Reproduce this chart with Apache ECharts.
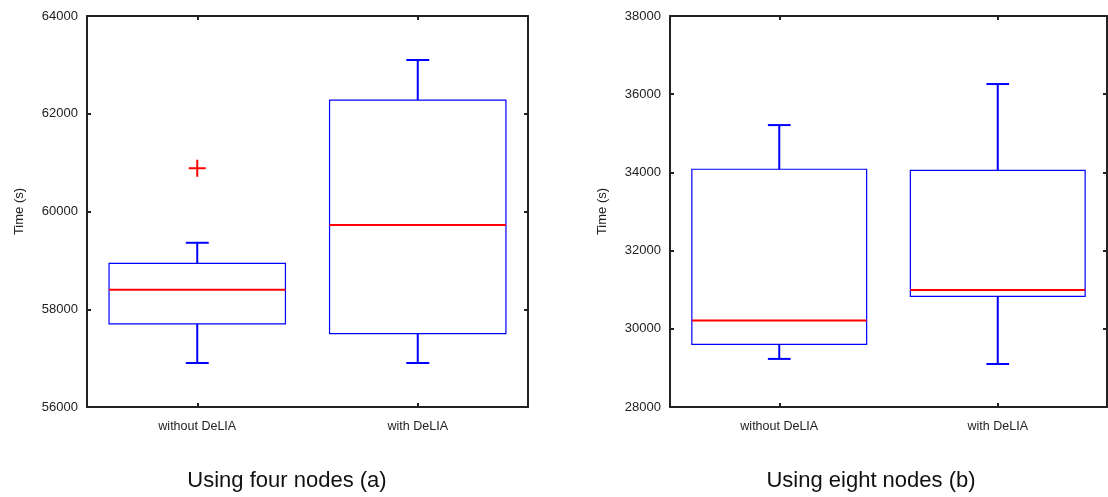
<!DOCTYPE html>
<html>
<head>
<meta charset="utf-8">
<script src="https://cdn.jsdelivr.net/npm/echarts@6/dist/echarts.min.js"></script>
<style>html,body{margin:0;padding:0;background:#fff}#c{width:1108px;height:497px}</style>
</head>
<body>
<div id="c"></div>
<script>
const categories = ['without DeLIA', 'with DeLIA'];

// Using four nodes (a)
const fourMin    = [56900, 56900];
const fourQ1     = [57700, 57500];
const fourMedian = [58400, 59725];
const fourQ3     = [58940, 62280];
const fourMax    = [59360, 63100];
const fourOutliers = [[0, 60885]];
const fourTicks = {min: 56000, max: 64000, interval: 2000};

// Using eight nodes (b)
const eightMin    = [29230, 29100];
const eightQ1     = [29600, 30830];
const eightMedian = [30210, 30990];
const eightQ3     = [34080, 34050];
const eightMax    = [35210, 36260];
const eightOutliers = [];
const eightTicks = {min: 28000, max: 38000, interval: 2000};

const titles = ['Using four nodes (a)', 'Using eight nodes (b)'];
const yName = 'Time (s)';

function stats(mn, q1, md, q3, mx) {
  return categories.map((c, i) => [i, mn[i], q1[i], md[i], q3[i], mx[i]]);
}

const BLUE = '#0000ff', RED = '#ff0000', INK = '#222';

function boxRender(params, api) {
  const i = api.value(0);
  const pMin = api.coord([i, api.value(1)]);
  const pQ1 = api.coord([i, api.value(2)]);
  const pMd = api.coord([i, api.value(3)]);
  const pQ3 = api.coord([i, api.value(4)]);
  const pMax = api.coord([i, api.value(5)]);
  const band = api.size([1, 0])[0];
  const half = band * 0.4;
  const cap = band * 0.052;
  const x = pMd[0];
  const wStyle = {stroke: BLUE, lineWidth: 2, fill: null};
  return {
    type: 'group',
    children: [
      {type: 'line', shape: {x1: x, y1: pQ3[1], x2: x, y2: pMax[1]}, style: wStyle},
      {type: 'line', shape: {x1: x - cap, y1: pMax[1], x2: x + cap, y2: pMax[1]}, style: wStyle},
      {type: 'line', shape: {x1: x, y1: pQ1[1], x2: x, y2: pMin[1]}, style: wStyle},
      {type: 'line', shape: {x1: x - cap, y1: pMin[1], x2: x + cap, y2: pMin[1]}, style: wStyle},
      {type: 'rect', shape: {x: x - half, y: pQ3[1], width: 2 * half, height: pQ1[1] - pQ3[1]},
        style: {stroke: BLUE, lineWidth: 1.2, fill: null}},
      {type: 'line', shape: {x1: x - half, y1: pMd[1], x2: x + half, y2: pMd[1]},
        style: {stroke: RED, lineWidth: 2}}
    ]
  };
}

function outlierRender(params, api) {
  const p = api.coord([api.value(0), api.value(1)]);
  const s = 8.5;
  const st = {stroke: RED, lineWidth: 2};
  return {
    type: 'group',
    children: [
      {type: 'line', shape: {x1: p[0] - s, y1: p[1], x2: p[0] + s, y2: p[1]}, style: st},
      {type: 'line', shape: {x1: p[0], y1: p[1] - s, x2: p[0], y2: p[1] + s}, style: st}
    ]
  };
}

const FONT = 'Liberation Sans';
const axisLine = {show: true, lineStyle: {color: INK, width: 2}};
const axisTick = {show: true, inside: true, length: 4, lineStyle: {color: INK, width: 2}};

function xAxes(grid) {
  return [
    {gridIndex: grid, type: 'category', data: categories, position: 'bottom',
      axisLine, axisTick: Object.assign({alignWithLabel: true}, axisTick),
      axisLabel: {color: INK, fontFamily: FONT, fontSize: 12.5, margin: 13},
      splitLine: {show: false}},
    {gridIndex: grid, type: 'category', data: categories, position: 'top',
      axisLine, axisTick: Object.assign({alignWithLabel: true}, axisTick),
      axisLabel: {show: false}, splitLine: {show: false}}
  ];
}
function yAxes(grid, t) {
  return [
    {gridIndex: grid, type: 'value', position: 'left', min: t.min, max: t.max, interval: t.interval,
      name: yName, nameLocation: 'middle', nameGap: 61,
      nameTextStyle: {color: INK, fontFamily: FONT, fontSize: 13},
      axisLine, axisTick,
      axisLabel: {color: INK, fontFamily: FONT, fontSize: 13, margin: 9, padding: [4, 0, 0, 0], formatter: v => String(v)},
      splitLine: {show: false}},
    {gridIndex: grid, type: 'value', position: 'right', min: t.min, max: t.max, interval: t.interval,
      axisLine, axisTick, axisLabel: {show: false}, splitLine: {show: false}}
  ];
}

const option = {
  backgroundColor: '#fff',
  animation: false,
  grid: [
    {left: 87, top: 16, width: 441, height: 391},
    {left: 670, top: 16, width: 437, height: 391}
  ],
  xAxis: [...xAxes(0), ...xAxes(1)],
  yAxis: [...yAxes(0, fourTicks), ...yAxes(1, eightTicks)],
  series: [
    {type: 'custom', xAxisIndex: 0, yAxisIndex: 0, renderItem: boxRender,
      data: stats(fourMin, fourQ1, fourMedian, fourQ3, fourMax)},
    {type: 'custom', xAxisIndex: 0, yAxisIndex: 0, renderItem: outlierRender, data: fourOutliers},
    {type: 'custom', xAxisIndex: 2, yAxisIndex: 2, renderItem: boxRender,
      data: stats(eightMin, eightQ1, eightMedian, eightQ3, eightMax)},
    {type: 'custom', xAxisIndex: 2, yAxisIndex: 2, renderItem: outlierRender, data: eightOutliers}
  ],
  graphic: [
    {type: 'text', x: 287, y: 481, style: {text: titles[0], fill: '#111', fontFamily: FONT, fontSize: 22, align: 'center', verticalAlign: 'middle'}},
    {type: 'text', x: 871, y: 481, style: {text: titles[1], fill: '#111', fontFamily: FONT, fontSize: 22, align: 'center', verticalAlign: 'middle'}}
  ]
};

const chart = echarts.init(document.getElementById('c'), null, {renderer: 'canvas'});
chart.setOption(option);
</script>
</body>
</html>
